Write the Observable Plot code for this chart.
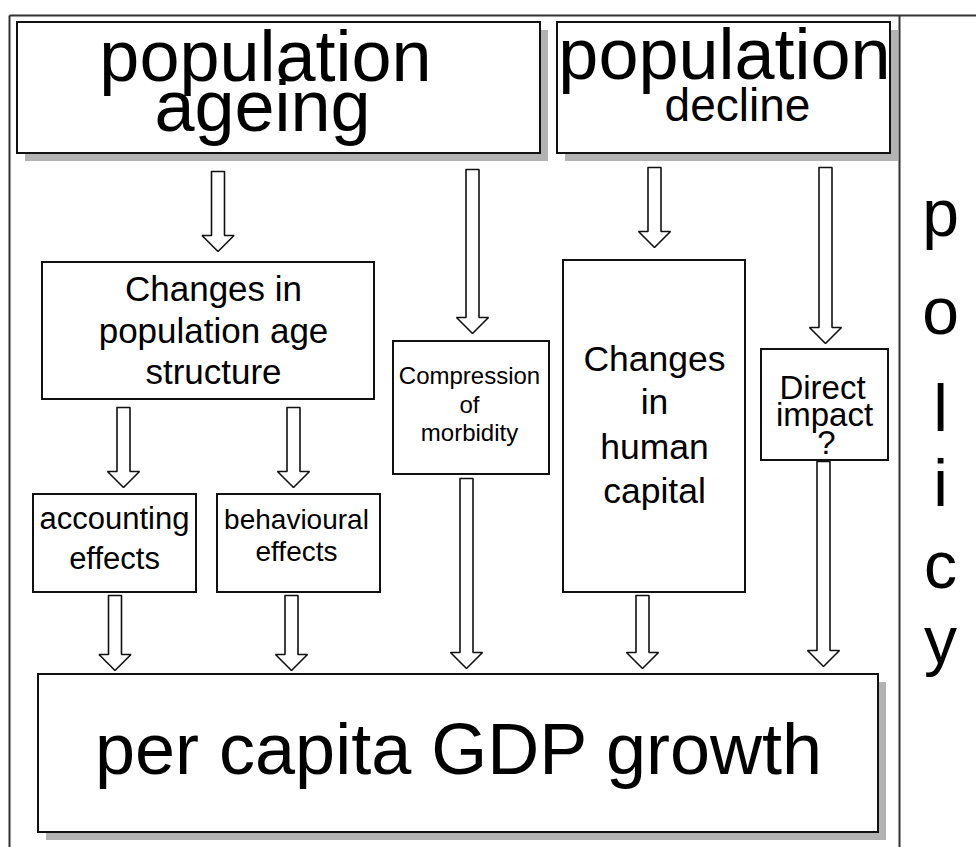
<!DOCTYPE html>
<html>
<head>
<meta charset="utf-8">
<script src="https://cdn.jsdelivr.net/npm/d3@7"></script>
<script src="https://cdn.jsdelivr.net/npm/@observablehq/plot@0.6"></script>
<style>
  html, body { margin: 0; padding: 0; background: #fff; }
  #chart svg { display: block; }
</style>
</head>
<body>
<div id="chart"></div>
<script>
// ---- diagram data (layout expressed in diagram units, 1 unit = 1 px) ----
// Boxes
const boxNames   = ["ageing", "decline", "ageStructure", "accounting", "behavioural", "compression", "humanCapital", "direct", "gdp"];
const boxLeft    = [17, 557, 42, 33, 217, 393, 563, 761, 38];
const boxRight   = [540, 890, 374, 196, 380, 549, 745, 888, 878];
const boxTop     = [22, 22, 262, 494, 494, 341, 260, 349, 674];
const boxBottom  = [153, 153, 399, 592, 592, 474, 592, 460, 832];
const boxShadow  = [true, true, false, false, false, false, false, false, true];

// Block arrows: centre, start (tail) and tip
const arrowFrom   = ["ageing", "ageing", "decline", "decline", "ageStructure", "ageStructure", "accounting", "behavioural", "compression", "humanCapital", "direct"];
const arrowTo     = ["ageStructure", "compression", "humanCapital", "direct", "accounting", "behavioural", "gdp", "gdp", "gdp", "gdp", "gdp"];
const arrowCenter = [217.5, 472, 654, 825, 123, 293, 114.5, 291, 466, 642, 823];
const arrowTail   = [171, 169, 167, 167, 407, 407, 595, 595, 478, 595, 461];
const arrowTip    = [251, 333, 247, 343, 487, 487, 670, 670, 668, 668, 666];

// Text lines (baseline positions)
const textLabel = ["population", "ageing", "population", "decline",
  "Changes in", "population age", "structure",
  "accounting", "effects", "behavioural", "effects",
  "Compression", "of", "morbidity",
  "Changes", "in", "human", "capital",
  "Direct", "impact", "?",
  "per capita GDP growth",
  "p", "o", "l", "i", "c", "y"];
const textX = [265, 262, 724, 737,
  213, 213, 213,
  114, 114, 296, 296,
  469, 469, 469,
  654, 654, 654, 654,
  822, 824, 826,
  458,
  940, 940, 940, 940, 940, 940];
const textY = [80, 130, 78, 120,
  300, 342, 383,
  528, 568, 528, 560,
  383, 412, 440,
  370, 413, 458, 502,
  398, 425, 453,
  773,
  235, 333, 430, 505, 587, 662];
const textSize = [72, 72, 72, 46,
  35, 35, 35,
  31, 31, 28, 28,
  24, 24, 24,
  35.5, 35.5, 35.5, 35.5,
  33, 33, 33,
  72,
  66, 66, 66, 66, 66, 66];

// Frame lines (outer border and policy separator)
const frameX1 = [9, 9, 899];
const frameY1 = [15, 15, 15];
const frameX2 = [976, 9, 899];
const frameY2 = [15, 847, 847];

// ---- build tables ----
const boxes = boxNames.map((name, i) => ({name, x1: boxLeft[i], x2: boxRight[i], y1: boxTop[i], y2: boxBottom[i], shadow: boxShadow[i]}));
const SHADOW = 8;
const shadows = boxes.filter(d => d.shadow).map(d => ({x1: d.x1 + SHADOW, x2: d.x2 + SHADOW, y1: d.y1 + SHADOW, y2: d.y2 + SHADOW}));

const SHAFT = 6.5, HEAD = 16, HEADLEN = 16;
const arrowPts = [];
arrowCenter.forEach((cx, i) => {
  const id = arrowFrom[i] + "→" + arrowTo[i] + i;
  const t = arrowTail[i], tip = arrowTip[i], hb = tip - HEADLEN;
  const pts = [[cx - SHAFT, t], [cx + SHAFT, t], [cx + SHAFT, hb], [cx + HEAD, hb], [cx, tip], [cx - HEAD, hb], [cx - SHAFT, hb], [cx - SHAFT, t]];
  pts.forEach(([x, y]) => arrowPts.push({id, x, y}));
});

const texts = textLabel.map((t, i) => ({text: t, x: textX[i], y: textY[i], size: textSize[i]}));
const frame = frameX1.map((x1, i) => ({x1, y1: frameY1[i], x2: frameX2[i], y2: frameY2[i]}));

const chart = Plot.plot({
  width: 976,
  height: 847,
  margin: 0,
  style: {background: "#fff", fontFamily: "'Liberation Sans', Arial, sans-serif"},
  x: {domain: [0, 976], range: [0, 976], axis: null},
  y: {domain: [0, 847], range: [0, 847], axis: null},
  marks: [
    Plot.link(frame, {x1: "x1", y1: "y1", x2: "x2", y2: "y2", stroke: "#333", strokeWidth: 2}),
    Plot.rect(shadows, {x1: "x1", x2: "x2", y1: "y1", y2: "y2", fill: "#b3b3b3"}),
    Plot.rect(boxes, {x1: "x1", x2: "x2", y1: "y1", y2: "y2", fill: "#fff", stroke: "#111", strokeWidth: 2}),
    Plot.line(arrowPts, {x: "x", y: "y", z: "id", stroke: "#111", strokeWidth: 1.6, strokeLinejoin: "miter", curve: "linear"}),
    Plot.text(texts, {x: "x", y: "y", text: "text", fontSize: "size", lineAnchor: "bottom", textAnchor: "middle", fill: "#000", fontFamily: "'Liberation Sans', Arial, sans-serif"})
  ]
});
document.getElementById("chart").appendChild(chart);
</script>
</body>
</html>
